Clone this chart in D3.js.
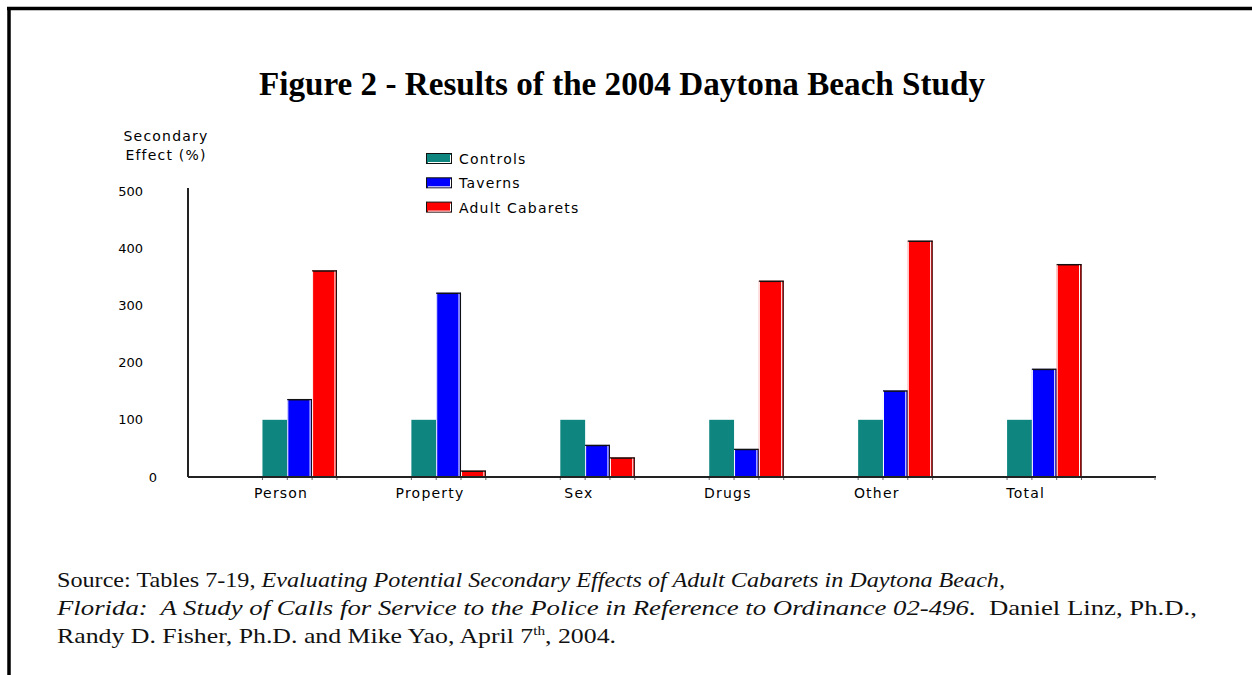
<!DOCTYPE html>
<html>
<head>
<meta charset="utf-8">
<script src="https://cdn.jsdelivr.net/npm/d3@7"></script>
<style>
  html, body { margin: 0; padding: 0; background: #fff; }
  svg { display: block; }
  .serif { font-family: "Liberation Serif", "Times New Roman", serif; white-space: pre; }
  .sans { font-family: "DejaVu Sans", "Liberation Sans", sans-serif; font-size: 14px; fill: #000; letter-spacing: 1.2px; }
  .num { font-family: "DejaVu Sans", "Liberation Sans", sans-serif; font-size: 13px; fill: #000; }
</style>
</head>
<body>
<svg id="chart" width="1252" height="675"></svg>
<script>
// Crime categories along the x axis
const categories = ["Person", "Property", "Sex", "Drugs", "Other", "Total"];
// Series names, one bar per category each
const seriesNames = ["Controls", "Taverns", "Adult Cabarets"];
// Secondary effect (%) per category
const controls = [100, 100, 100, 100, 100, 100];
const taverns = [136, 322, 56, 49, 151, 189];
const cabarets = [361, 11, 34, 343, 413, 372];
// Y axis tick values
const yTicks = [0, 100, 200, 300, 400, 500];

const seriesValues = [controls, taverns, cabarets];
const colors = ["#0f8580", "#0000ff", "#ff0000"];

const svg = d3.select("#chart");

// Page frame: heavy rule on top and left
svg.append("line").attr("x1", 7).attr("x2", 1252).attr("y1", 8.5).attr("y2", 8.5)
  .attr("stroke", "#000").attr("stroke-width", 3.5);
svg.append("line").attr("x1", 9).attr("x2", 9).attr("y1", 7).attr("y2", 675)
  .attr("stroke", "#000").attr("stroke-width", 3.5);

// Title
svg.append("text").attr("class", "serif")
  .attr("x", 622).attr("y", 95)
  .attr("text-anchor", "middle")
  .attr("font-size", 34).attr("font-weight", "bold")
  .attr("textLength", 726).attr("lengthAdjust", "spacingAndGlyphs")
  .text("Figure 2 - Results of the 2004 Daytona Beach Study");

// Plot geometry
const x0 = 188, x1 = 1156, yBase = 477, yTop = 191;

const x = d3.scaleBand().domain(categories).range([x0, x1])
  .paddingInner(0.5).paddingOuter(0.5);
const xs = d3.scaleBand().domain(seriesNames).range([0, x.bandwidth()]);
const y = d3.scaleLinear().domain([0, 500]).range([yBase, yTop]);

// Y axis title
const yt = svg.append("text").attr("class", "sans").attr("text-anchor", "middle");
yt.append("tspan").attr("x", 166).attr("y", 141).text("Secondary");
yt.append("tspan").attr("x", 166).attr("y", 160).text("Effect (%)");

// Bars
const groups = svg.append("g").selectAll("g")
  .data(categories)
  .join("g")
  .attr("transform", d => `translate(${x(d)},0)`);

groups.each(function (cat, ci) {
  const g = d3.select(this);
  seriesNames.forEach((s, si) => {
    const v = seriesValues[si][ci];
    const bx = xs(s), bw = xs.bandwidth();
    const top = y(v);
    g.append("rect")
      .attr("x", bx).attr("y", top)
      .attr("width", bw).attr("height", yBase - top)
      .attr("fill", colors[si]);
    if (si > 0) {
      // dark cap and right edge with a light inner rule
      g.append("line").attr("x1", bx).attr("x2", bx + bw).attr("y1", top + 0.5).attr("y2", top + 0.5)
        .attr("stroke", "#111").attr("stroke-width", 1.5);
      g.append("line").attr("x1", bx + bw - 0.5).attr("x2", bx + bw - 0.5).attr("y1", top).attr("y2", yBase)
        .attr("stroke", "#111").attr("stroke-width", 1);
      g.append("line").attr("x1", bx + bw - 2).attr("x2", bx + bw - 2).attr("y1", top + 1).attr("y2", yBase)
        .attr("stroke", "#fff").attr("stroke-width", 1);
      g.append("line").attr("x1", bx + 0.5).attr("x2", bx + 0.5).attr("y1", top + 1).attr("y2", yBase)
        .attr("stroke", "#fff").attr("stroke-width", 1);
    }
    // small tick under each bar edge
    g.append("line").attr("x1", bx).attr("x2", bx).attr("y1", yBase).attr("y2", yBase + 3)
      .attr("stroke", "#666").attr("stroke-width", 1);
  });
  g.append("line").attr("x1", x.bandwidth()).attr("x2", x.bandwidth()).attr("y1", yBase).attr("y2", yBase + 3)
    .attr("stroke", "#666").attr("stroke-width", 1);
});

// Y axis
const yAxis = svg.append("g").attr("transform", `translate(${x0},0)`)
  .call(d3.axisLeft(y).tickValues(yTicks).tickSize(0).tickPadding(45));
yAxis.select(".domain").attr("stroke", "#222").attr("stroke-width", 2)
  .attr("d", `M0,${yTop - 3}V${yBase}`);
yAxis.selectAll(".tick text")
  .attr("class", "num")
  .attr("font-family", null).attr("font-size", null)
  .attr("dx", d => d === 0 ? 14 : 0);

// X axis
const xAxis = svg.append("g").attr("transform", `translate(0,${yBase})`)
  .call(d3.axisBottom(x).tickSize(0).tickPadding(11));
xAxis.select(".domain").attr("stroke", "#222").attr("stroke-width", 2)
  .attr("d", `M${x0},0H${x1}`);
xAxis.selectAll(".tick")
  .attr("transform", d => `translate(${x(d) + x.bandwidth() * 0.25},0)`);
xAxis.selectAll(".tick text")
  .attr("class", "sans")
  .attr("font-family", null).attr("font-size", null);
svg.append("line").attr("x1", x1 - 1).attr("x2", x1 - 1).attr("y1", yBase).attr("y2", yBase + 3)
  .attr("stroke", "#666");

// Legend
const legend = svg.append("g").selectAll("g")
  .data(seriesNames)
  .join("g")
  .attr("transform", (d, i) => `translate(426,${153 + i * 24.3})`);
legend.append("rect").attr("x", 0.5).attr("y", 0.5).attr("width", 25).attr("height", 10)
  .attr("fill", (d, i) => colors[i]).attr("stroke", "#111");
legend.append("path").attr("d", "M2,9.5H24.5V2")
  .attr("fill", "none").attr("stroke", "#fff");
legend.append("text").attr("class", "sans")
  .attr("x", 33).attr("y", 11)
  .text(d => d);

// Source note, one text element per line
function noteLine(yPos, width, parts) {
  const t = svg.append("text").attr("class", "serif")
    .attr("x", 57).attr("y", yPos)
    .attr("font-size", 22).attr("fill", "#111")
    .attr("textLength", width).attr("lengthAdjust", "spacingAndGlyphs");
  parts.forEach(p => {
    const s = t.append("tspan").text(p.t);
    if (p.i) s.attr("font-style", "italic");
    if (p.sup) s.attr("font-size", 13).attr("dy", -8);
    if (p.down) s.attr("dy", 8);
  });
}
noteLine(587, 948, [
  { t: "Source: Tables 7-19, " },
  { t: "Evaluating Potential Secondary Effects of Adult Cabarets in Daytona Beach,", i: true }
]);
noteLine(615, 1140, [
  { t: "Florida:  A Study of Calls for Service to the Police in Reference to Ordinance 02-496", i: true },
  { t: ".  Daniel Linz, Ph.D.," }
]);
noteLine(643, 559, [
  { t: "Randy D. Fisher, Ph.D. and Mike Yao, April 7" },
  { t: "th", sup: true },
  { t: ", 2004.", down: true }
]);
</script>
</body>
</html>
